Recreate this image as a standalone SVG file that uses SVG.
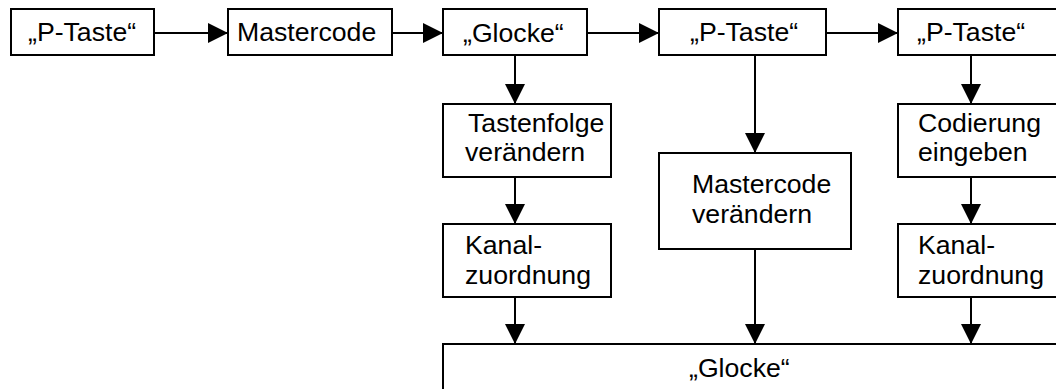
<svg xmlns="http://www.w3.org/2000/svg" width="1056" height="389" viewBox="0 0 1056 389">
<style>
.box{fill:#fff;stroke:#000;stroke-width:2}
.t{font-family:"Liberation Sans",Arial,sans-serif;font-size:26.67px;fill:#000}
.c{stroke:#000;stroke-width:2;fill:none;marker-end:url(#ah)}
</style>
<defs>
<marker id="ah" markerUnits="userSpaceOnUse" markerWidth="20" markerHeight="20" refX="20" refY="10" orient="auto">
<path d="M0,0 L20,10 L0,20 z" fill="#000"/>
</marker>
</defs>
<rect width="1056" height="389" fill="#fff"/>
<g id="connectors">
<line class="c" x1="154" y1="33" x2="228" y2="33"/>
<line class="c" x1="392" y1="33" x2="443" y2="33"/>
<line class="c" x1="587" y1="33" x2="659" y2="33"/>
<line class="c" x1="826" y1="33" x2="898" y2="33"/>
<line class="c" x1="515" y1="55" x2="515" y2="104"/>
<line class="c" x1="515" y1="177" x2="515" y2="224"/>
<line class="c" x1="515" y1="297" x2="515" y2="344"/>
<line class="c" x1="755" y1="55" x2="755" y2="153"/>
<line class="c" x1="755" y1="249" x2="755" y2="344"/>
<line class="c" x1="971" y1="55" x2="971" y2="104"/>
<line class="c" x1="971" y1="177" x2="971" y2="224"/>
<line class="c" x1="971" y1="297" x2="971" y2="344"/>
</g>
<g id="n1"><rect class="box" x="11" y="9" width="143" height="46"/><text class="t" x="28" y="41">„P-Taste“</text></g>
<g id="n2"><rect class="box" x="228" y="9" width="164" height="46"/><text class="t" x="237" y="41">Mastercode</text></g>
<g id="n3"><rect class="box" x="443" y="9" width="144" height="46"/><text class="t" x="463" y="42">„Glocke“</text></g>
<g id="n4"><rect class="box" x="659" y="9" width="167" height="46"/><text class="t" x="690" y="41">„P-Taste“</text></g>
<g id="n5"><rect class="box" x="898" y="9" width="170" height="46"/><text class="t" x="917" y="41">„P-Taste“</text></g>
<g id="n6"><rect class="box" x="443" y="104" width="168" height="73"/><text class="t" x="468" y="132">Tastenfolge</text><text class="t" x="465" y="161">verändern</text></g>
<g id="n7"><rect class="box" x="443" y="224" width="168" height="73"/><text class="t" x="465" y="254">Kanal-</text><text class="t" x="465" y="284">zuordnung</text></g>
<g id="n8"><rect class="box" x="659" y="153" width="192" height="96"/><text class="t" x="692" y="193">Mastercode</text><text class="t" x="692" y="223">verändern</text></g>
<g id="n9"><rect class="box" x="898" y="104" width="170" height="73"/><text class="t" x="918" y="132">Codierung</text><text class="t" x="918" y="161">eingeben</text></g>
<g id="n10"><rect class="box" x="898" y="224" width="170" height="73"/><text class="t" x="918" y="254">Kanal-</text><text class="t" x="918" y="284">zuordnung</text></g>
<g id="n11"><rect class="box" x="443" y="344" width="625" height="60"/><text class="t" x="689" y="377">„Glocke“</text></g>
</svg>
